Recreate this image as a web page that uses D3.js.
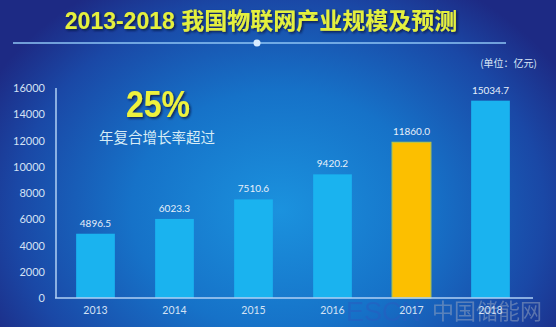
<!DOCTYPE html>
<html><head><meta charset="utf-8">
<script src="https://cdn.jsdelivr.net/npm/d3@7"></script>
<style>html,body{margin:0;padding:0;background:#1b3c9c;}svg{display:block;}</style>
</head><body>
<script>
const years = ["2013","2014","2015","2016","2017","2018"];
const values = [4896.5, 6023.3, 7510.6, 9420.2, 11860.0, 15034.7];
const valueLabels = ["4896.5","6023.3","7510.6","9420.2","11860.0","15034.7"];
const yTicks = [0,2000,4000,6000,8000,10000,12000,14000,16000];
const highlightYear = "2017";

const W = 556, H = 327;
const svg = d3.select("body").append("svg").attr("width", W).attr("height", H);
const defs = svg.append("defs");
const rg = defs.append("radialGradient").attr("id","bg")
  .attr("gradientUnits","userSpaceOnUse").attr("cx",280).attr("cy",210).attr("r",330)
  .attr("gradientTransform","matrix(1,0,0,0.8,0,42)");
rg.append("stop").attr("offset","0").attr("stop-color","#1b92de");
rg.append("stop").attr("offset","0.45").attr("stop-color","#1672c8");
rg.append("stop").attr("offset","0.8").attr("stop-color","#1a48a6");
rg.append("stop").attr("offset","1").attr("stop-color","#1d2a84");
svg.append("rect").attr("width",W).attr("height",H).attr("fill","url(#bg)");

const f = defs.append("filter").attr("id","sh").attr("x","-10%").attr("y","-20%").attr("width","120%").attr("height","140%");
f.append("feDropShadow").attr("dx",1.5).attr("dy",1.5).attr("stdDeviation",0.8).attr("flood-color","#0a1440").attr("flood-opacity",0.9);

// title
svg.append("text").attr("x",261).attr("y",29).attr("text-anchor","middle")
  .attr("font-family","Liberation Sans, Noto Sans CJK SC, sans-serif").attr("font-weight","bold")
  .attr("font-size",23).attr("fill","#e4f03e").attr("filter","url(#sh)")
  .text("2013-2018 我国物联网产业规模及预测");
svg.append("line").attr("x1",13).attr("x2",506).attr("y1",43).attr("y2",43)
  .attr("stroke","#8ec4f4").attr("stroke-width",1.5);
svg.append("circle").attr("cx",257).attr("cy",43).attr("r",3.5).attr("fill","#d8ecff");

svg.append("text").attr("x",537).attr("y",67).attr("text-anchor","end")
  .attr("font-family","Noto Sans CJK SC, sans-serif").attr("font-size",10).attr("fill","#d8e6f6")
  .text("(单位：亿元)");

// scales
const x = d3.scaleBand().domain(years).range([56,530]).paddingInner(0.51).paddingOuter(0.255);
const y = d3.scaleLinear().domain([0,16000]).range([298,88]);

// bars
svg.append("g").selectAll("rect").data(years).join("rect")
  .attr("x", d=>x(d)).attr("width", x.bandwidth())
  .attr("y", (d,i)=>y(values[i])).attr("height", (d,i)=>y(0)-y(values[i]))
  .attr("fill", d=> d===highlightYear ? "#fcbf00" : "#1ab3ef")
  .attr("stroke", d=> d===highlightYear ? "#b8c44a" : "none").attr("stroke-width",1.2);

svg.append("g").selectAll("text").data(years).join("text")
  .attr("x", d=>x(d)+x.bandwidth()/2).attr("y",(d,i)=>y(values[i])-7)
  .attr("text-anchor","middle").attr("font-family","Lato, sans-serif").attr("font-size",10)
  .attr("fill","#e6f0fa").text((d,i)=>valueLabels[i]);

// axes
const yAxis = d3.axisLeft(y).tickValues(yTicks).tickSize(0).tickPadding(11).tickFormat(d3.format("d"));
const gy = svg.append("g").attr("transform","translate(56,0)").call(yAxis);
gy.select(".domain").remove();
gy.selectAll("text").attr("font-family","Lato, sans-serif").attr("font-size",11).attr("fill","#d4e2f4");

// watermark (drawn beneath the axis labels, as in the reference)
svg.append("text").attr("x",346).attr("y",321).attr("font-family","Liberation Sans, sans-serif")
  .attr("font-size",27).attr("fill","#2a5cc0").attr("opacity",0.5).text("ESCN");
svg.append("text").attr("x",432).attr("y",319).attr("font-family","Noto Sans CJK SC, sans-serif")
  .attr("font-size",22).attr("fill","#9aa8c0").attr("opacity",0.5).text("中国储能网");

const xAxis = d3.axisBottom(x).tickSize(0).tickPadding(9);
const gx = svg.append("g").attr("transform","translate(0,298)").call(xAxis);
gx.select(".domain").remove();
gx.selectAll("text").attr("font-family","Lato, sans-serif").attr("font-size",10.5).attr("fill","#d4e2f4");

svg.append("line").attr("x1",56).attr("x2",56).attr("y1",88).attr("y2",298)
  .attr("stroke","#b0d0f4").attr("stroke-width",1.5);
svg.append("line").attr("x1",55).attr("x2",533).attr("y1",298).attr("y2",298)
  .attr("stroke","#b0d0f4").attr("stroke-width",1.5);

// annotation
svg.append("text").attr("x",158).attr("y",117).attr("text-anchor","middle")
  .attr("font-family","Liberation Sans, sans-serif").attr("font-weight","bold")
  .attr("font-size",36).attr("fill","#eef23c").attr("filter","url(#sh)")
  .attr("textLength",64).attr("lengthAdjust","spacingAndGlyphs").text("25%");
svg.append("text").attr("x",157).attr("y",143).attr("text-anchor","middle")
  .attr("font-family","Noto Sans CJK SC, sans-serif").attr("font-size",14.5).attr("fill","#d6ecf6")
  .text("年复合增长率超过");
</script>
</body></html>
